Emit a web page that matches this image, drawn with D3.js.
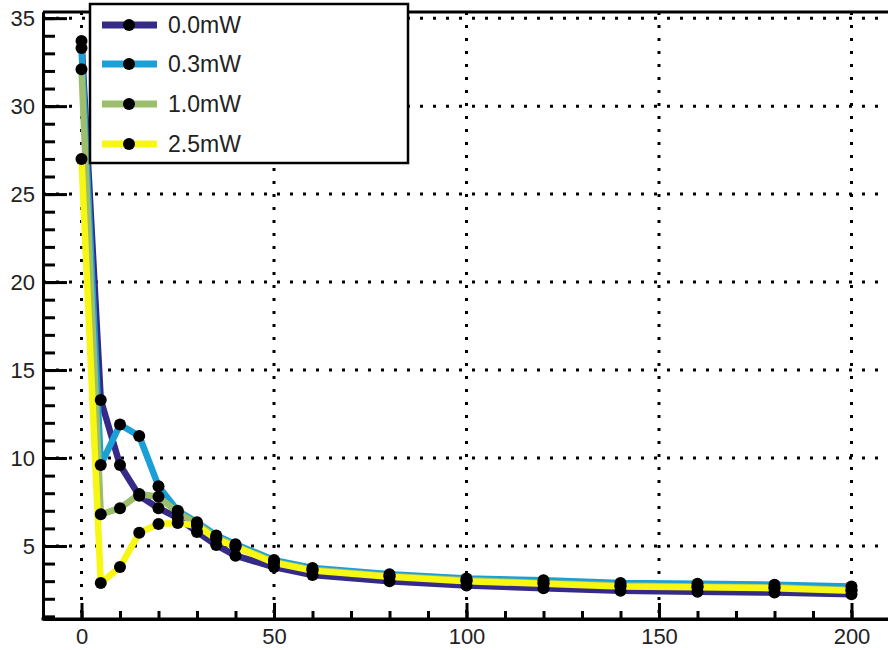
<!DOCTYPE html>
<html><head><meta charset="utf-8">
<script src="https://cdn.jsdelivr.net/npm/d3@7"></script>
<style>
body{margin:0;background:#fff;}
svg{display:block;font-family:"Liberation Sans",Arial,Helvetica,sans-serif;}
</style></head>
<body><svg id="c" width="888" height="650"></svg>
<script>
const xs = [0,5,10,15,20,25,30,35,40,50,60,80,100,120,140,160,180,200];
const s00 = [33.7,13.3,9.6,7.85,7.15,6.6,5.8,5.05,4.45,3.8,3.35,3.0,2.75,2.6,2.45,2.4,2.35,2.25];
const s03 = [33.3,9.6,11.9,11.25,8.4,7.0,6.35,5.6,5.1,4.2,3.75,3.4,3.15,3.05,2.9,2.85,2.8,2.7];
const s10 = [32.1,6.8,7.15,7.95,7.8,6.9,6.25,5.5,5.0,4.1,3.65,3.3,3.05,2.9,2.75,2.7,2.65,2.5];
const s25 = [27.0,2.9,3.8,5.75,6.25,6.3,6.15,5.4,4.95,4.05,3.6,3.25,3.0,2.85,2.7,2.65,2.6,2.45];
const seriesNames = ["0.0mW","0.3mW","1.0mW","2.5mW"];
const seriesColors = ["#352a87","#1a9fd6","#9dbe6c","#f7f711"];
const xTicks = [0,50,100,150,200];
const yTicks = [5,10,15,20,25,30,35];

const series = [s00,s03,s10,s25].map((v,i)=>({name:seriesNames[i],color:seriesColors[i],pts:xs.map((x,j)=>[x,v[j]])}));

const svg = d3.select("#c");
const L=43,R=890,T=12,B=619;
const x = d3.scaleLinear().domain([-10,210]).range([L,R]);
const y = d3.scaleLinear().domain([0.85,35.35]).range([B,T]);

// grid
const g = svg.append("g").attr("stroke","#000").attr("stroke-width",3).attr("stroke-dasharray","3,10");
g.selectAll("line.v").data(xTicks).join("line").attr("x1",d=>x(d)).attr("x2",d=>x(d)).attr("y1",T).attr("y2",B);
g.selectAll("line.h").data(yTicks).join("line").attr("y1",d=>y(d)).attr("y2",d=>y(d)).attr("x1",L).attr("x2",R);

// series
const line = d3.line().x(d=>x(d[0])).y(d=>y(d[1]));
series.forEach(s=>{
  svg.append("path").attr("d",line(s.pts)).attr("fill","none").attr("stroke",s.color).attr("stroke-width",6.5).attr("stroke-linejoin","round");
});
series.forEach(s=>{
  svg.append("g").selectAll("circle").data(s.pts).join("circle")
    .attr("cx",d=>x(d[0])).attr("cy",d=>y(d[1])).attr("r",6).attr("fill","#000");
});

// axes
const yMinor = d3.range(1,36);
const xMinor = d3.range(-10,211,10);
const ax = svg.append("g");
ax.append("g").attr("transform",`translate(${L},0)`)
  .call(d3.axisLeft(y).tickValues(yMinor).tickFormat("").tickSizeInner(-12).tickSizeOuter(0));
ax.append("g").attr("transform",`translate(${L},0)`)
  .call(d3.axisLeft(y).tickValues(yTicks).tickFormat(d3.format("d")).tickSizeInner(-24).tickSizeOuter(0).tickPadding(8));
ax.append("g").attr("transform",`translate(0,${B})`)
  .call(d3.axisBottom(x).tickValues(xMinor).tickFormat("").tickSizeInner(-8).tickSizeOuter(0));
ax.append("g").attr("transform",`translate(0,${B})`)
  .call(d3.axisBottom(x).tickValues(xTicks).tickFormat(d3.format("d")).tickSizeInner(-16).tickSizeOuter(0).tickPadding(9));
ax.selectAll(".domain").attr("stroke","#000").attr("stroke-width",3);
ax.selectAll(".tick line").attr("stroke","#000").attr("stroke-width",3);
ax.selectAll(".tick text").attr("fill","#222").attr("font-size",22).attr("font-family","Liberation Sans, Arial, sans-serif");
// frame
svg.append("line").attr("x1",L).attr("x2",R).attr("y1",T).attr("y2",T).attr("stroke","#000").attr("stroke-width",3);
svg.append("line").attr("x1",L-1.5).attr("x2",R).attr("y1",B).attr("y2",B).attr("stroke","#000").attr("stroke-width",3);

// legend
const lg = svg.append("g");
lg.append("rect").attr("x",90).attr("y",4).attr("width",318).attr("height",159).attr("fill","#fff").attr("stroke","#000").attr("stroke-width",2.5);
const rowY = [25,64,104,144];
series.forEach((s,i)=>{
  const r = lg.append("g").attr("transform",`translate(0,${rowY[i]})`);
  r.append("line").attr("x1",102).attr("x2",157).attr("stroke",s.color).attr("stroke-width",7);
  r.append("circle").attr("cx",129).attr("r",6).attr("fill","#000");
  r.append("text").attr("x",168).attr("dy","0.36em").attr("font-size",23).attr("fill","#222").text(s.name);
});
</script></body></html>
